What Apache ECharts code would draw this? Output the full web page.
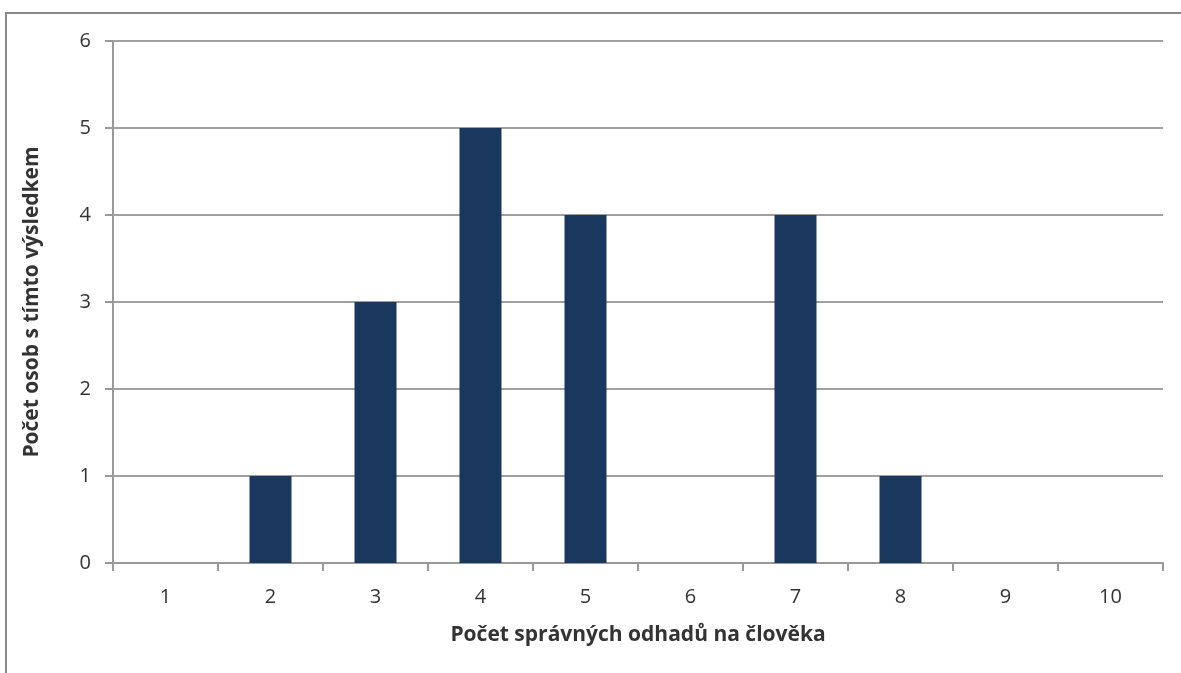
<!DOCTYPE html>
<html><head><meta charset="utf-8">
<script src="https://cdn.jsdelivr.net/npm/echarts@6/dist/echarts.min.js"></script>
<style>html,body{margin:0;padding:0;background:#fff}#c{width:1181px;height:673px}</style>
</head><body><div id="c"></div>
<script>
const categories = ['1','2','3','4','5','6','7','8','9','10'];
const counts = [0,1,3,5,4,0,4,1,0,0];
const xTitle = 'Počet správných odhadů na člověka';
const yTitle = 'Počet osob s tímto výsledkem';
const chart = echarts.init(document.getElementById('c'));
const font = '"Open Sans", "Noto Sans", sans-serif';
chart.setOption({
  animation: false,
  grid: {left: 113, right: 18, top: 41, bottom: 110, containLabel: false},
  graphic: [{type:'polyline', shape:{points:[[6,673],[6,13],[1181,13]]}, style:{stroke:'#888', lineWidth:2, fill:null}}],
  xAxis: {
    type: 'category', data: categories,
    axisLine: {lineStyle: {color: '#999', width: 2}},
    axisTick: {show: true, length: 8, lineStyle: {color: '#999', width: 2}},
    axisLabel: {color: '#333', fontSize: 20, fontFamily: font, margin: 24},
    name: xTitle, nameLocation: 'middle', nameGap: 62,
    nameTextStyle: {color: '#333', fontSize: 21, fontWeight: 'bold', fontFamily: font}
  },
  yAxis: {
    type: 'value', min: 0, max: 6, interval: 1,
    axisLine: {show: true, lineStyle: {color: '#999', width: 2}},
    axisTick: {show: true, length: 8, lineStyle: {color: '#999', width: 2}},
    splitLine: {lineStyle: {color: '#a0a0a0', width: 2}},
    axisLabel: {color: '#333', fontSize: 20, fontFamily: font, margin: 22},
    name: yTitle, nameLocation: 'middle', nameGap: 70, nameRotate: 90,
    nameTextStyle: {color: '#333', fontSize: 21, fontWeight: 'bold', fontFamily: font}
  },
  series: [{type: 'bar', data: counts, barWidth: '40%', itemStyle: {color: '#1a375e'}}]
});
</script></body></html>
